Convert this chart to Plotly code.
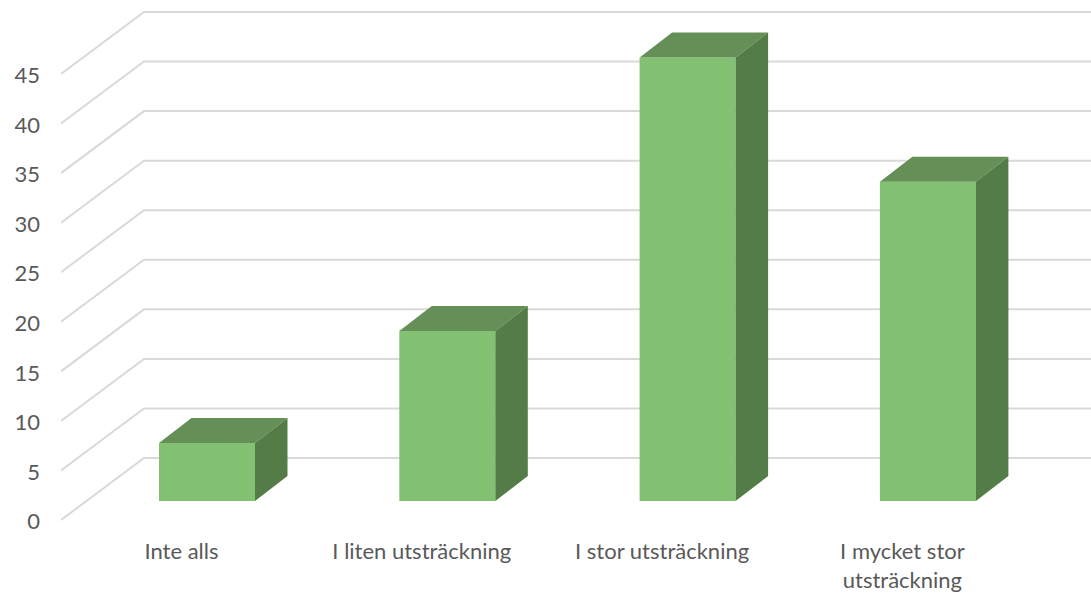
import plotly.graph_objects as go

categories = ["Inte alls", "I liten utsträckning", "I stor utsträckning", "I mycket stor<br>utsträckning"]
values = [5.85, 17.15, 44.75, 32.2]
y_ticks = [0, 5, 10, 15, 20, 25, 30, 35, 40, 45]

W, H = 1091, 593
PX_PER_CAT = 240.3
PX_PER_VAL = 9.911
ML, MB = 61, 70
AXIS_ZERO_PX = 520
FIRST_CENTER_PX = 207

x0 = -(FIRST_CENTER_PX - ML) / PX_PER_CAT
x1 = (W - FIRST_CENTER_PX) / PX_PER_CAT
y0 = -((H - MB) - AXIS_ZERO_PX) / PX_PER_VAL
y1 = AXIS_ZERO_PX / PX_PER_VAL

BAR_W = 96 / PX_PER_CAT
BASE = 19 / PX_PER_VAL
BAR_DX, BAR_DY = 32.5 / PX_PER_CAT, 25 / PX_PER_VAL
WALL_DX, WALL_DY = 83 / PX_PER_CAT, 62 / PX_PER_VAL
LABEL_SHIFT = -25.5 / PX_PER_CAT
Y_LABEL_NUDGE = -1.5 / PX_PER_VAL

GRID = "#d9d9d9"
FRONT, TOP, SIDE = "#83c172", "#648f56", "#537c46"
TEXT = "#595959"
FONT = "Lato"
FS = 22

shapes = []
for v in y_ticks:
    path = (f"M {x0} {v} L {x0 + WALL_DX} {v + WALL_DY} L {x1} {v + WALL_DY}")
    shapes.append(dict(type="path", path=path, xref="x", yref="y", layer="below",
                       line=dict(color=GRID, width=2)))

fig = go.Figure()
xs = list(range(len(categories)))
fig.add_trace(go.Bar(x=xs, y=values, base=BASE, width=BAR_W,
                     marker=dict(color=FRONT, line=dict(width=0)),
                     hoverinfo="skip", showlegend=False))

for i, v in zip(xs, values):
    left, right = i - BAR_W / 2, i + BAR_W / 2
    top = BASE + v
    fig.add_trace(go.Scatter(
        x=[left, right, right + BAR_DX, left + BAR_DX, left],
        y=[top, top, top + BAR_DY, top + BAR_DY, top],
        mode="lines", fill="toself", fillcolor=TOP, line=dict(width=0),
        hoverinfo="skip", showlegend=False))
    fig.add_trace(go.Scatter(
        x=[right, right + BAR_DX, right + BAR_DX, right, right],
        y=[BASE, BASE + BAR_DY, top + BAR_DY, top, BASE],
        mode="lines", fill="toself", fillcolor=SIDE, line=dict(width=0),
        hoverinfo="skip", showlegend=False))

fig.update_layout(
    width=W, height=H, autosize=False,
    margin=dict(l=ML, r=0, t=0, b=MB, pad=0),
    paper_bgcolor="white", plot_bgcolor="white",
    font=dict(family=FONT, size=FS, color=TEXT),
    shapes=shapes, showlegend=False,
    xaxis=dict(range=[x0, x1], showgrid=False, zeroline=False, showline=False,
               tickmode="array", tickvals=[i + LABEL_SHIFT for i in xs],
               ticktext=categories, ticks="", ticklabelstandoff=13,
               tickfont=dict(family=FONT, size=FS, color=TEXT), tickangle=0,
               fixedrange=True),
    yaxis=dict(range=[y0, y1], showgrid=False, zeroline=False, showline=False,
               tickmode="array", tickvals=[t + Y_LABEL_NUDGE for t in y_ticks],
               ticktext=[str(t) for t in y_ticks],
               ticks="", ticklabelstandoff=20,
               tickfont=dict(family=FONT, size=FS, color=TEXT), fixedrange=True),
)
fig.write_html("out.html", config=dict(displayModeBar=False),
               post_script="document.body.style.margin='0';document.documentElement.style.overflow='hidden';")
